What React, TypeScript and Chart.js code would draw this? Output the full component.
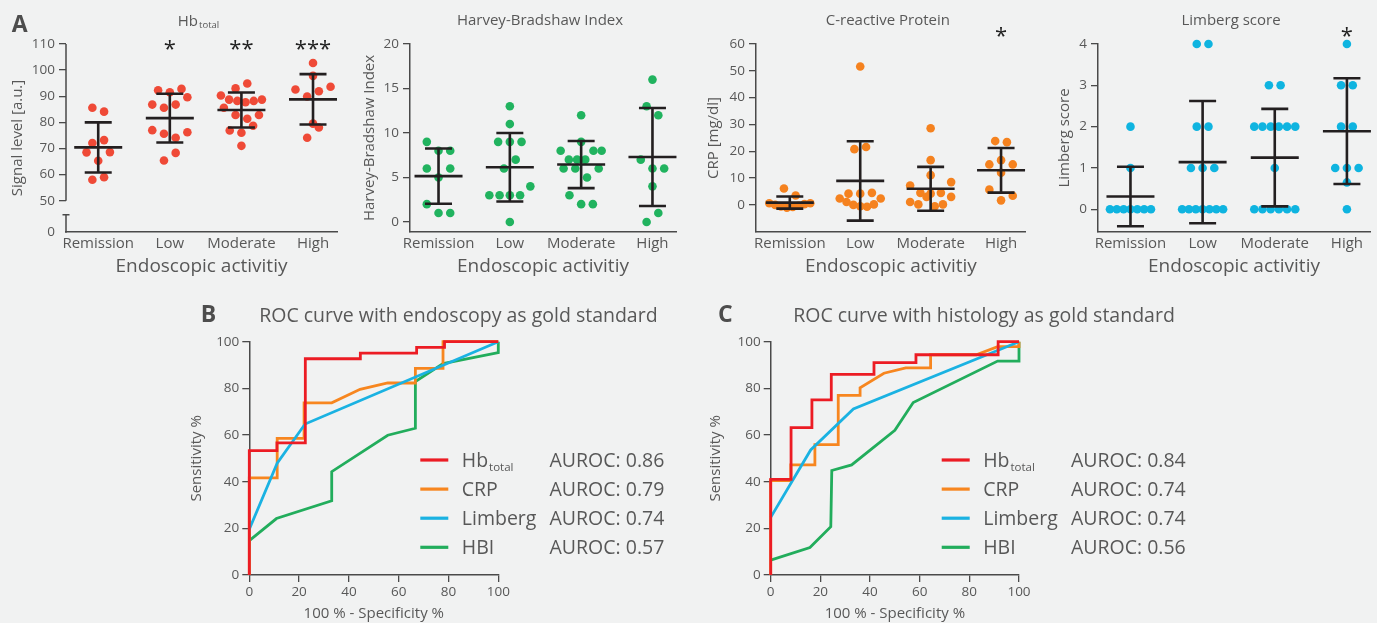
import React, { useEffect, useRef } from 'react';
import { Chart, registerables } from 'chart.js';

Chart.register(...registerables);

const FONT = '"Open Sans", "Noto Sans", "DejaVu Sans", sans-serif';
const TEXT = '#585858';
const AXIS = '#4a4a4a';
const BAR = '#231f20';
const LETTER = '#4d4d4d';

// ---------- shared ----------
const categories = ['Remission', 'Low', 'Moderate', 'High'];
const xAxisTitle = 'Endoscopic activitiy';

// ---------- Hb total (signal level, a.u.) ----------
const hbRemission = [85.6, 84.1, 72.1, 73.2, 68.5, 65.3, 68.6, 58, 59];
const hbLow = [92.3, 91.5, 92.8, 86.8, 85.6, 86.8, 89.6, 77, 75.6, 74.1, 76.2, 65.4, 68.3];
const hbModerate = [93, 94.9, 90.3, 88.7, 88.2, 87.7, 88.2, 88.7, 85.6, 82.8, 81.4, 82.8, 76.9, 76, 78.7, 71];
const hbHigh = [102.7, 97.8, 92.6, 89.9, 91.9, 93.6, 79.5, 74.1, 78];
const hbMean = [70.4, 81.6, 84.7, 88.8];
const hbSd = [9.6, 9.35, 6.7, 9.65];
const hbStars = ['', '*', '**', '***'];
const hbTicks = [0, 50, 60, 70, 80, 90, 100, 110];

// ---------- Harvey-Bradshaw Index ----------
const hbiRemission = [9, 8, 8, 6, 5, 6, 2, 1, 1];
const hbiLow = [13, 11, 9, 9, 9, 6, 7, 3, 3, 3, 3, 4, 0];
const hbiModerate = [12, 9, 8, 7, 7, 7, 8, 8, 6, 6, 5, 6, 3, 2, 2];
const hbiHigh = [16, 13, 12, 7, 6, 6, 4, 0, 1];
const hbiMean = [5.15, 6.15, 6.45, 7.3];
const hbiSd = [3.1, 3.85, 2.65, 5.5];
const hbiStars = ['', '', '', ''];
const hbiTicks = [0, 5, 10, 15, 20];

// ---------- C-reactive protein ----------
const crpRemission = [6.1, 3.5, 0.6, 0, -0.6, -1, -0.8, -0.3, 0.3, 0.6];
const crpLow = [51.6, 20.8, 21.6, 4.2, 4.2, 4.5, 2.4, 1.1, 0, -0.5, -0.7, 0.2, 2.4];
const crpModerate = [28.6, 16.7, 11.1, 7.2, 4.5, 4.2, 4.5, 8.5, 1.1, 0.2, 3, -0.5, 0.2, 3];
const crpHigh = [23.8, 23.4, 16.7, 15.1, 12, 15.1, 5.7, 1.7, 3.4];
const crpMean = [0.87, 8.95, 6.0, 12.9];
const crpSd = [2.24, 14.8, 8.2, 8.3];
const crpStars = ['', '', '', '*'];
const crpTicks = [0, 10, 20, 30, 40, 50, 60];

// ---------- Limberg score ----------
const limRemission = [2, 1, 0, 0, 0, 0, 0, 0, 0];
const limLow = [4, 4, 2, 2, 1, 1, 1, 0, 0, 0, 0, 0, 0, 0];
const limModerate = [3, 3, 2, 2, 2, 2, 2, 2, 1, 0, 0, 0, 0, 0, 0];
const limHigh = [4, 3, 3, 2, 2, 1, 1, 1, 0.65, 0];
const limMean = [0.31, 1.14, 1.25, 1.89];
const limSd = [0.72, 1.48, 1.18, 1.28];
const limStars = ['', '', '', '*'];
const limTicks = [0, 1, 2, 3, 4];

// ---------- ROC curves: [100% - specificity, sensitivity] ----------
const rocEndoHb = [[0, 0], [0, 53.3], [11.1, 53.3], [11.1, 56.6], [22.5, 56.6], [22.5, 92.7], [44.6, 92.7], [44.6, 95.1], [67.2, 95.1], [67.2, 97.6], [78.4, 97.6], [78.4, 100], [100, 100]];
const rocEndoCrp = [[0, 0], [0, 41.6], [11.2, 41.6], [11.2, 58.6], [22, 58.6], [22, 73.8], [33.1, 73.8], [44.5, 79.6], [55.6, 82.3], [66.7, 82.3], [66.7, 88.6], [77.8, 88.6], [77.8, 100], [100, 100]];
const rocEndoLimberg = [[0, 19.6], [11.2, 47.9], [22.4, 64.7], [100, 100]];
const rocEndoHbi = [[0, 14.7], [10.9, 24.2], [33.1, 31.8], [33.1, 44.3], [55.6, 59.9], [66.7, 62.9], [66.7, 82.9], [77.8, 90.6], [100, 95.3], [100, 100]];

const rocHistoHb = [[0, 0], [0, 41], [8.2, 41], [8.2, 63.2], [16.6, 63.2], [16.6, 75.1], [24.4, 75.1], [24.4, 86], [41.6, 86], [41.6, 91], [58.5, 91], [58.5, 94.4], [91.6, 94.4], [91.6, 100], [100, 100]];
const rocHistoCrp = [[0, 0], [0, 40.5], [8.1, 40.5], [8.1, 47.2], [17.8, 47.2], [17.8, 55.9], [27.2, 55.9], [27.2, 77], [36, 77], [36, 80.2], [45.6, 86.5], [54.4, 88.8], [64.4, 88.8], [64.4, 94.4], [82.8, 94.4], [91.4, 97.9], [100, 97.9], [100, 100]];
const rocHistoLimberg = [[0, 24.7], [16.1, 53.6], [33.3, 71.2], [100, 100]];
const rocHistoHbi = [[0, 6.4], [15.8, 11.8], [24.2, 20.7], [24.6, 44.8], [32.6, 47.2], [50, 62], [57.4, 73.9], [91.4, 91.7], [100, 91.7], [100, 100]];

const rocLabels = ['Hb', 'CRP', 'Limberg', 'HBI'];
const rocLabelSubs = ['total', '', '', ''];
const aurocEndo = ['0.86', '0.79', '0.74', '0.57'];
const aurocHisto = ['0.84', '0.74', '0.74', '0.56'];
const rocTicks = [0, 20, 40, 60, 80, 100];
const rocColors = ['#ec1c24', '#f7861f', '#1ab2e2', '#22ad5c'];
const rocDrawOrder = [0, 2, 1, 3];

// ---------- layout constants ----------
const TOP_H = 285;
const PLOT_TOP = 44;
const PLOT_BOTTOM = 232;
const X_AXIS_H = 50;
const TITLE_BASE = 24.5;

const ROW_PX = 11.7;
const STEP_PX = 11.7;
const MAX_SPAN_PX = 41;

function swarmOffsets(values: number[], pxPerY: number, pxPerCat: number): number[] {
  const idx = values.map((_, i) => i).sort((a, b) => values[a] - values[b] || a - b);
  const out = values.map(() => 0);
  let k = 0;
  while (k < idx.length) {
    const start = values[idx[k]];
    const row: number[] = [];
    while (k < idx.length && (values[idx[k]] - start) * pxPerY < ROW_PX) {
      row.push(idx[k]);
      k++;
    }
    row.sort((a, b) => a - b);
    const n = row.length;
    const step = n > 1 ? Math.min(STEP_PX, MAX_SPAN_PX / (n - 1)) : 0;
    row.forEach((id, j) => {
      out[id] = ((j - (n - 1) / 2) * step) / pxPerCat;
    });
  }
  return out;
}

type DotCfg = {
  left: number; width: number; axisW: number; padRight: number;
  letter: string; title: string; titleSub: string;
  yTitle: string; yTitlePad: number;
  yMin: number; yMax: number; ticks: number[]; broken: boolean;
  xMin: number; xMax: number;
  color: string; groups: number[][]; mean: number[]; sd: number[];
  stars: string[]; starY: number;
};

const dotPanels: DotCfg[] = [
  {
    left: 0, width: 345, axisW: 66, padRight: 8, letter: 'A', title: 'Hb', titleSub: 'total',
    yTitle: 'Signal level [a.u.]', yTitlePad: 9, yMin: 38, yMax: 110, ticks: hbTicks, broken: true,
    xMin: -0.45, xMax: 3.335, color: '#ef4a37', groups: [hbRemission, hbLow, hbModerate, hbHigh],
    mean: hbMean, sd: hbSd, stars: hbStars, starY: 43.5,
  },
  {
    left: 340, width: 345, axisW: 70, padRight: 9, letter: '', title: 'Harvey-Bradshaw Index', titleSub: '',
    yTitle: 'Harvey-Bradshaw Index', yTitlePad: 21, yMin: -1.13, yMax: 20, ticks: hbiTicks, broken: false,
    xMin: -0.4, xMax: 3.33, color: '#21b35f', groups: [hbiRemission, hbiLow, hbiModerate, hbiHigh],
    mean: hbiMean, sd: hbiSd, stars: hbiStars, starY: 30,
  },
  {
    left: 685, width: 345, axisW: 71, padRight: 2, letter: '', title: 'C-reactive Protein', titleSub: '',
    yTitle: 'CRP [mg/dl]', yTitlePad: 20, yMin: -10.1, yMax: 60, ticks: crpTicks, broken: false,
    xMin: -0.48, xMax: 3.35, color: '#f5821f', groups: [crpRemission, crpLow, crpModerate, crpHigh],
    mean: crpMean, sd: crpSd, stars: crpStars, starY: 30,
  },
  {
    left: 1030, width: 347, axisW: 68, padRight: 7, letter: '', title: 'Limberg score', titleSub: '',
    yTitle: 'Limberg score', yTitlePad: 25.5, yMin: -0.55, yMax: 4, ticks: limTicks, broken: false,
    xMin: -0.45, xMax: 3.32, color: '#0fb4e0', groups: [limRemission, limLow, limModerate, limHigh],
    mean: limMean, sd: limSd, stars: limStars, starY: 30,
  },
];

function DotChart({ cfg }: { cfg: DotCfg }) {
  const ref = useRef<HTMLCanvasElement>(null);
  useEffect(() => {
    const canvas = ref.current;
    if (!canvas) return;
    const decor = {
      id: 'dotDecor',
      afterDatasetsDraw(chart: any) {
        const { ctx } = chart;
        const xs = chart.scales.x;
        const ys = chart.scales.y;
        ctx.save();
        ctx.strokeStyle = BAR;
        ctx.lineWidth = 2.6;
        ctx.lineCap = 'butt';
        cfg.mean.forEach((m, i) => {
          const cx = xs.getPixelForValue(i);
          const ym = ys.getPixelForValue(m);
          const yt = ys.getPixelForValue(m + cfg.sd[i]);
          const yb = ys.getPixelForValue(m - cfg.sd[i]);
          ctx.beginPath();
          ctx.moveTo(cx - 24, ym); ctx.lineTo(cx + 24, ym);
          ctx.moveTo(cx, yt); ctx.lineTo(cx, yb);
          ctx.moveTo(cx - 13.5, yt); ctx.lineTo(cx + 13.5, yt);
          ctx.moveTo(cx - 13.5, yb); ctx.lineTo(cx + 13.5, yb);
          ctx.stroke();
        });
        ctx.restore();
      },
      afterDraw(chart: any) {
        const { ctx, chartArea } = chart;
        const xs = chart.scales.x;
        const ys = chart.scales.y;
        ctx.save();
        if (cfg.broken) {
          const x0 = chartArea.left;
          const p50 = ys.getPixelForValue(cfg.ticks[1]);
          const pb = p50 + 14;
          ctx.strokeStyle = AXIS;
          ctx.lineWidth = 1.5;
          ctx.beginPath();
          ctx.moveTo(x0, ys.top); ctx.lineTo(x0, p50);
          ctx.moveTo(x0, pb); ctx.lineTo(x0, ys.bottom + 0.75);
          ctx.moveTo(x0 - 3.5, pb); ctx.lineTo(x0 + 3.5, pb);
          ctx.stroke();
        }
        // title
        const cx = (chartArea.left + chartArea.right) / 2 - 3;
        ctx.fillStyle = TEXT;
        ctx.textBaseline = 'alphabetic';
        ctx.font = `15px ${FONT}`;
        const w1 = ctx.measureText(cfg.title).width;
        let w2 = 0;
        if (cfg.titleSub) {
          ctx.font = `9.5px ${FONT}`;
          w2 = ctx.measureText(cfg.titleSub).width + 1;
        }
        const x0 = cx - (w1 + w2) / 2;
        ctx.textAlign = 'left';
        ctx.font = `15px ${FONT}`;
        ctx.fillText(cfg.title, x0, TITLE_BASE + (cfg.titleSub ? 1 : 0));
        if (cfg.titleSub) {
          ctx.font = `9.5px ${FONT}`;
          ctx.fillText(cfg.titleSub, x0 + w1 + 1, TITLE_BASE + 3.5);
        }
        // significance stars
        ctx.font = `22px ${FONT}`;
        ctx.textAlign = 'center';
        ctx.fillStyle = '#222222';
        cfg.stars.forEach((s, i) => {
          if (s) ctx.fillText(s, xs.getPixelForValue(i), cfg.starY + 12.5);
        });
        if (cfg.letter) {
          ctx.font = `bold 23px ${FONT}`;
          ctx.textAlign = 'left';
          ctx.fillStyle = LETTER;
          ctx.fillText(cfg.letter, 11.7, 31.7);
        }
        ctx.restore();
      },
    };

    const chart: any = new Chart(canvas, {
      type: 'scatter',
      data: {
        datasets: cfg.groups.map((g, i) => ({
          data: g.map((v) => ({ x: i, y: v })),
          backgroundColor: cfg.color,
          borderWidth: 0,
          pointRadius: 4.3,
          pointHoverRadius: 4.3,
          clip: false,
        })),
      },
      options: {
        responsive: false,
        animation: false,
        devicePixelRatio: 1,
        events: [],
        layout: { padding: { top: PLOT_TOP, left: 0, right: cfg.padRight, bottom: TOP_H - PLOT_BOTTOM - X_AXIS_H } },
        plugins: { legend: { display: false }, tooltip: { enabled: false } },
        scales: {
          x: {
            type: 'linear',
            min: cfg.xMin,
            max: cfg.xMax,
            afterBuildTicks: (s: any) => { s.ticks = categories.map((_, i) => ({ value: i })); },
            afterFit: (s: any) => { s.height = X_AXIS_H; },
            grid: { display: false, drawTicks: false },
            border: { display: true, color: AXIS, width: 1.5 },
            ticks: {
              padding: 3, color: TEXT, font: { family: FONT, size: 15 }, maxRotation: 0, autoSkip: false,
              callback: (v: any) => categories[Math.round(v)] ?? '',
            },
            title: { display: true, text: xAxisTitle, color: TEXT, font: { family: FONT, size: 19 }, padding: { top: 0, bottom: 4.5 } },
          },
          y: {
            type: 'linear',
            min: cfg.yMin,
            max: cfg.yMax,
            afterBuildTicks: (s: any) => {
              s.ticks = cfg.ticks.map((v) => ({ value: cfg.broken && v === 0 ? cfg.yMin : v }));
            },
            afterFit: (s: any) => { s.width = cfg.axisW; },
            grid: {
              display: true, drawOnChartArea: false, drawTicks: true, tickLength: 7, lineWidth: 1.3,
              color: (c: any) => (cfg.broken && c.tick && c.tick.value === cfg.yMin ? 'rgba(0,0,0,0)' : AXIS),
            },
            border: { display: !cfg.broken, color: AXIS, width: 1.5 },
            ticks: {
              padding: 4, color: TEXT, font: { family: FONT, size: 13.5 }, autoSkip: false,
              callback: (v: any) => (cfg.broken && v === cfg.yMin ? '0' : String(v)),
            },
            title: { display: true, text: cfg.yTitle, color: TEXT, font: { family: FONT, size: 15 }, padding: { top: cfg.yTitlePad, bottom: 0 } },
          },
        },
      } as any,
      plugins: [decor],
    });

    const xs = chart.scales.x;
    const ys = chart.scales.y;
    const pxY = Math.abs(ys.getPixelForValue(1) - ys.getPixelForValue(0));
    const pxX = Math.abs(xs.getPixelForValue(1) - xs.getPixelForValue(0));
    cfg.groups.forEach((g, i) => {
      const offs = swarmOffsets(g, pxY, pxX);
      chart.data.datasets[i].data = g.map((v, j) => ({ x: i + offs[j], y: v }));
    });
    chart.update('none');

    return () => chart.destroy();
  }, [cfg]);
  return (
    <canvas
      ref={ref}
      width={cfg.width}
      height={TOP_H}
      style={{ position: 'absolute', left: cfg.left, top: 0, width: cfg.width, height: TOP_H }}
    />
  );
}

type RocCfg = {
  left: number; axisW: number; padRight: number; letter: string; letterX: number;
  title: string; titleX: number; yTitlePad: number; series: number[][][]; auroc: string[];
};

const ROC_W = 500;
const ROC_H = 333;
const ROC_TOP = 290;

const rocPanels: RocCfg[] = [
  {
    left: 180, axisW: 69.3, padRight: 181.7, letter: 'B', letterX: 20.7,
    title: 'ROC curve with endoscopy as gold standard', titleX: 278.4, yTitlePad: 7.7,
    series: [rocEndoHb, rocEndoCrp, rocEndoLimberg, rocEndoHbi], auroc: aurocEndo,
  },
  {
    left: 700, axisW: 70.7, padRight: 181, letter: 'C', letterX: 18,
    title: 'ROC curve with histology as gold standard', titleX: 284, yTitlePad: 7,
    series: [rocHistoHb, rocHistoCrp, rocHistoLimberg, rocHistoHbi], auroc: aurocHisto,
  },
];

function RocChart({ cfg }: { cfg: RocCfg }) {
  const ref = useRef<HTMLCanvasElement>(null);
  useEffect(() => {
    const canvas = ref.current;
    if (!canvas) return;
    const decor = {
      id: 'rocDecor',
      afterDraw(chart: any) {
        const { ctx, chartArea } = chart;
        ctx.save();
        ctx.textBaseline = 'alphabetic';
        ctx.fillStyle = LETTER;
        ctx.font = `bold 23px ${FONT}`;
        ctx.textAlign = 'left';
        ctx.fillText(cfg.letter, cfg.letterX, 31.7);
        ctx.fillStyle = TEXT;
        ctx.font = `19.5px ${FONT}`;
        ctx.textAlign = 'center';
        ctx.fillText(cfg.title, cfg.titleX, 31.7);
        rocLabels.forEach((lab, i) => {
          const y = chartArea.top + 118.3 + i * 29.1;
          ctx.strokeStyle = rocColors[i];
          ctx.lineWidth = 3.2;
          ctx.lineCap = 'butt';
          ctx.beginPath();
          ctx.moveTo(chartArea.left + 171, y);
          ctx.lineTo(chartArea.left + 199, y);
          ctx.stroke();
          ctx.fillStyle = TEXT;
          ctx.font = `19.5px ${FONT}`;
          ctx.textAlign = 'left';
          const tx = chartArea.left + 212.5;
          ctx.fillText(lab, tx, y + 6.8);
          if (rocLabelSubs[i]) {
            const w = ctx.measureText(lab).width;
            ctx.font = `11.5px ${FONT}`;
            ctx.fillText(rocLabelSubs[i], tx + w + 1, y + 10.5);
          }
          ctx.font = `19.5px ${FONT}`;
          ctx.textAlign = 'right';
          ctx.fillText('AUROC: ' + cfg.auroc[i], chartArea.left + 415, y + 6.8);
        });
        ctx.restore();
      },
    };

    const chart: any = new Chart(canvas, {
      type: 'line',
      data: {
        datasets: cfg.series.map((s, i) => ({
          data: s.map(([x, y]) => ({ x, y })),
          borderColor: rocColors[i],
          backgroundColor: rocColors[i],
          borderWidth: 2.8,
          pointRadius: 0,
          pointHoverRadius: 0,
          tension: 0,
          fill: false,
          clip: false,
          order: rocDrawOrder[i],
          borderJoinStyle: 'miter',
          borderCapStyle: 'butt',
        })),
      },
      options: {
        responsive: false,
        animation: false,
        devicePixelRatio: 1,
        events: [],
        layout: { padding: { top: 51.7, left: 0, right: cfg.padRight, bottom: 0 } },
        plugins: { legend: { display: false }, tooltip: { enabled: false } },
        scales: {
          x: {
            type: 'linear', min: 0, max: 100,
            afterBuildTicks: (s: any) => { s.ticks = rocTicks.map((v) => ({ value: v })); },
            afterFit: (s: any) => { s.height = 48; },
            grid: { display: true, drawOnChartArea: false, drawTicks: true, tickLength: 7, color: AXIS, lineWidth: 1.3 },
            border: { display: true, color: AXIS, width: 1.5 },
            ticks: { padding: 1.6, color: TEXT, font: { family: FONT, size: 13.5 }, maxRotation: 0, autoSkip: false },
            title: { display: true, text: '100 % - Specificity %', color: TEXT, font: { family: FONT, size: 15 }, padding: { top: 0, bottom: 0.7 } },
          },
          y: {
            type: 'linear', min: 0, max: 100,
            afterBuildTicks: (s: any) => { s.ticks = rocTicks.map((v) => ({ value: v })); },
            afterFit: (s: any) => { s.width = cfg.axisW; },
            grid: { display: true, drawOnChartArea: false, drawTicks: true, tickLength: 7, color: AXIS, lineWidth: 1.3 },
            border: { display: true, color: AXIS, width: 1.5 },
            ticks: { padding: 3, color: TEXT, font: { family: FONT, size: 13.5 }, autoSkip: false },
            title: { display: true, text: 'Sensitivity %', color: TEXT, font: { family: FONT, size: 15 }, padding: { top: cfg.yTitlePad, bottom: 0 } },
          },
        },
      } as any,
      plugins: [decor],
    });
    return () => chart.destroy();
  }, [cfg]);
  return (
    <canvas
      ref={ref}
      width={ROC_W}
      height={ROC_H}
      style={{ position: 'absolute', left: cfg.left, top: ROC_TOP, width: ROC_W, height: ROC_H }}
    />
  );
}

export default function App() {
  return (
    <div
      style={{
        position: 'fixed', left: 0, top: 0, width: 1377, height: 623,
        background: '#f1f2f2', overflow: 'hidden',
      }}
    >
      {dotPanels.map((p, i) => <DotChart key={'d' + i} cfg={p} />)}
      {rocPanels.map((p, i) => <RocChart key={'r' + i} cfg={p} />)}
    </div>
  );
}
